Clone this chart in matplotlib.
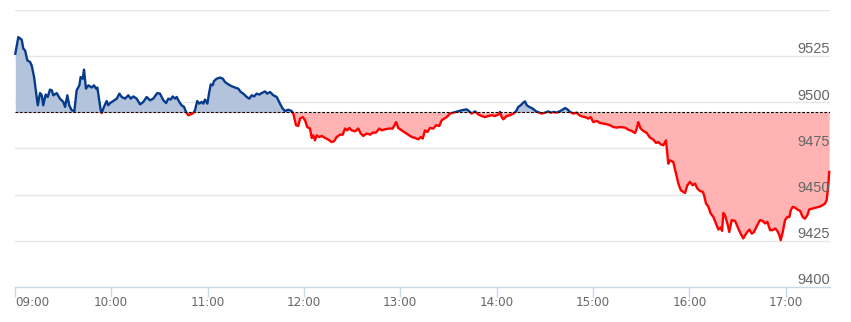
import matplotlib.pyplot as plt
from matplotlib.patches import Rectangle
import numpy as np

# minutes after 09:00 and index level
minutes = [
    0.3, 2.2, 4.3, 5.3, 6.4, 7.8, 9.5, 10.5, 12.0, 13.6, 14.3, 15.7, 16.8, 17.7,
    19.2, 20.5, 21.9, 23.0, 24.0, 26.1, 28.1, 30.2, 31.3, 32.7, 33.9, 35.4, 37.1,
    38.5, 40.2, 41.0, 42.3, 43.1, 44.3, 45.8, 47.9, 49.3, 50.6, 51.4, 52.6, 53.5,
    54.1, 55.5, 57.2, 58.2, 59.3, 61.3, 63.5, 65.1, 66.6, 68.6, 70.7, 72.2, 73.8,
    75.9, 78.0, 80.0, 82.1, 84.2, 86.2, 88.7, 90.4, 92.5, 94.2, 95.6, 97.1, 98.3,
    99.8, 100.8, 102.4, 103.9, 105.4, 106.6, 108.0, 109.5, 111.2, 112.2, 113.6,
    114.9, 116.4, 117.4, 118.4, 119.9, 121.1, 122.0, 123.2, 124.0, 125.7, 127.8,
    129.5, 130.9, 133.0, 135.1, 137.1, 139.2, 140.7, 142.3, 144.4, 146.0, 147.5,
    149.0, 150.6, 152.3, 153.7, 155.8, 157.2, 158.9, 161.0, 163.1, 165.1, 166.8,
    168.3, 170.3, 172.4, 173.4, 175.1, 176.5, 177.6, 179.3, 180.7, 182.1, 183.8,
    184.9, 185.9, 186.9, 188.0, 189.6, 191.1, 193.2, 195.2, 197.3, 198.8, 200.4,
    202.5, 204.2, 205.6, 207.0, 208.3, 209.8, 211.8, 213.9, 215.4, 217.0, 219.1,
    221.2, 222.9, 224.9, 227.0, 228.5, 230.5, 233.2, 235.3, 237.4, 238.8, 240.9,
    243.0, 245.0, 247.2, 249.2, 251.3, 252.7, 254.0, 255.4, 256.9, 258.5, 260.6,
    262.3, 264.3, 265.8, 268.9, 271.0, 273.1, 276.2, 278.3, 281.4, 283.0, 284.5,
    286.6, 288.6, 290.7, 292.8, 294.8, 297.0, 299.0, 301.1, 302.1, 303.2, 304.2,
    306.3, 308.4, 310.4, 312.1, 313.5, 315.0, 316.6, 317.7, 318.8, 320.4, 322.5,
    324.6, 326.6, 328.1, 330.2, 332.2, 333.7, 335.8, 337.4, 340.6, 342.6, 344.1,
    345.7, 347.8, 349.9, 351.5, 353.0, 355.1, 357.1, 358.6, 360.2, 362.4, 364.4,
    366.5, 368.6, 370.6, 372.7, 374.8, 376.9, 380.0, 382.0, 384.1, 386.2, 387.3,
    388.2, 389.7, 391.4, 393.5, 395.5, 397.6, 399.3, 400.7, 402.2, 403.8, 405.5,
    406.3, 406.9, 408.0, 410.0, 411.7, 413.2, 414.7, 416.3, 417.3, 418.8, 420.4,
    422.1, 423.6, 425.0, 426.7, 428.4, 429.2, 430.4, 431.9, 433.3, 435.0, 436.6,
    438.1, 439.6, 440.4, 441.2, 442.2, 443.7, 444.9, 446.4, 448.5, 450.5, 452.0,
    453.6, 454.7, 456.1, 457.4, 458.9, 460.3, 462.0, 464.0, 465.7, 467.2, 468.6,
    470.3, 472.0, 473.4, 474.8, 476.1, 476.9, 478.2, 479.6, 481.0, 482.3, 483.2,
    484.4, 485.8, 487.3, 489.0, 490.6, 492.0, 493.5, 494.7, 496.8, 498.9, 500.9,
    503.0, 504.5, 505.5, 506.5, 507.1,
]
price = [
    9526.3, 9535.3, 9533.9, 9529.1, 9528.1, 9522.7, 9521.8, 9520.0, 9513.7, 9502.9,
    9498.4, 9505.0, 9503.8, 9498.4, 9504.2, 9502.9, 9506.9, 9506.5, 9503.8, 9505.0,
    9502.0, 9500.2, 9497.5, 9503.8, 9498.4, 9495.7, 9495.3, 9506.5, 9509.2, 9513.7,
    9512.8, 9517.7, 9507.4, 9509.2, 9508.0, 9509.2, 9507.4, 9508.0, 9501.1, 9495.7,
    9494.2, 9497.5, 9500.7, 9498.4, 9499.6, 9500.7, 9502.0, 9504.7, 9502.9, 9502.0,
    9503.8, 9502.0, 9503.2, 9502.0, 9498.9, 9500.2, 9502.9, 9501.1, 9502.0, 9505.0,
    9504.7, 9501.1, 9499.6, 9502.0, 9501.5, 9503.2, 9502.0, 9502.9, 9500.2, 9498.4,
    9497.5, 9494.8, 9493.0, 9493.5, 9494.2, 9495.7, 9500.7, 9499.3, 9500.2, 9499.3,
    9501.5, 9499.3, 9505.6, 9509.7, 9509.2, 9511.5, 9512.8, 9513.4, 9512.8, 9511.0,
    9509.7, 9508.7, 9508.0, 9507.4, 9505.6, 9504.7, 9502.9, 9502.0, 9503.8, 9503.2,
    9504.7, 9504.2, 9505.0, 9505.9, 9504.7, 9505.6, 9503.8, 9502.9, 9499.3, 9496.6,
    9495.3, 9496.0, 9495.3, 9493.9, 9487.6, 9487.2, 9491.2, 9492.0, 9490.3, 9486.6,
    9485.8, 9480.7, 9482.1, 9479.4, 9482.1, 9481.2, 9481.8, 9480.7, 9479.8, 9478.5,
    9478.9, 9481.2, 9482.5, 9482.5, 9485.8, 9484.8, 9486.1, 9484.8, 9484.3, 9485.8,
    9483.1, 9481.8, 9483.1, 9482.5, 9483.6, 9483.6, 9485.8, 9484.8, 9485.4, 9485.8,
    9485.8, 9489.3, 9486.1, 9484.8, 9483.6, 9482.5, 9481.2, 9480.7, 9480.0, 9481.2,
    9480.4, 9484.8, 9483.9, 9486.1, 9485.8, 9487.6, 9487.2, 9490.3, 9492.0, 9493.9,
    9494.4, 9495.1, 9495.7, 9496.2, 9495.1, 9493.9, 9495.1, 9493.4, 9492.6, 9492.0,
    9492.6, 9493.0, 9492.6, 9493.4, 9494.8, 9492.0, 9490.8, 9492.6, 9493.0, 9493.9,
    9495.1, 9497.5, 9498.4, 9499.8, 9500.5, 9498.4, 9497.5, 9496.6, 9495.1, 9494.4,
    9493.9, 9494.4, 9495.1, 9494.4, 9494.8, 9494.4, 9495.7, 9496.9, 9496.2, 9494.8,
    9493.9, 9494.4, 9493.0, 9492.4, 9492.0, 9491.2, 9492.0, 9489.3, 9489.9, 9488.8,
    9488.5, 9488.1, 9487.6, 9486.6, 9486.3, 9486.6, 9486.3, 9485.2, 9484.5, 9483.4,
    9485.8, 9489.3, 9485.8, 9484.5, 9483.4, 9480.9, 9479.8, 9478.0, 9478.5, 9477.3,
    9476.7, 9479.4, 9472.2, 9466.8, 9468.6, 9467.7, 9461.4, 9456.0, 9452.4, 9451.5,
    9450.9, 9455.1, 9456.9, 9455.1, 9456.0, 9453.3, 9452.0, 9451.5, 9449.7, 9445.2,
    9443.4, 9439.8, 9437.9, 9434.4, 9431.1, 9432.2, 9430.4, 9440.1, 9438.9, 9434.4,
    9429.8, 9436.2, 9435.8, 9431.7, 9428.9, 9426.3, 9428.0, 9429.8, 9431.1, 9428.9,
    9429.8, 9432.9, 9436.2, 9435.8, 9434.4, 9435.3, 9430.8, 9430.8, 9431.7, 9430.4,
    9428.0, 9425.3, 9429.8, 9436.2, 9437.9, 9437.9, 9441.6, 9443.4, 9443.0, 9442.0,
    9441.2, 9437.9, 9437.0, 9438.9, 9442.0, 9442.5, 9443.0, 9443.4, 9444.3, 9445.2,
    9447.0, 9454.2, 9462.3,
]
prev_close = 9494.6
y_ticks = [9400, 9425, 9450, 9475, 9500, 9525, 9550]
x_hours = [9, 10, 11, 12, 13, 14, 15, 16, 17]
x_labels = ['09:00', '10:00', '11:00', '12:00', '13:00', '14:00', '15:00', '16:00', '17:00']

t = 9 + np.array(minutes) / 60.0
p = np.array(price)

fig = plt.figure(figsize=(8.51, 3.22), dpi=100)
ax = fig.add_axes([0.0174, 0.1087, 0.9579, 0.8603])
ax.set_xlim(9, 9 + 507.6 / 60)
ax.set_ylim(9400, 9550)

up_line = '#063b8c'
up_fill = '#b4c3dc'
dn_line = '#ff0000'
dn_fill = '#ffb3b3'

# grid lines
for v in y_ticks[1:]:
    ax.axhline(v, color='#e6e6e6', lw=1, zorder=0)

# clip rectangles above / below the previous close
above = Rectangle((0, prev_close), 100, 1000, transform=ax.transData)
below = Rectangle((0, prev_close - 1000), 100, 1000, transform=ax.transData)

f1 = ax.fill_between(t, p, prev_close, color=up_fill, lw=0, zorder=1)
f1.set_clip_path(above)
f2 = ax.fill_between(t, p, prev_close, color=dn_fill, lw=0, zorder=1)
f2.set_clip_path(below)

l1, = ax.plot(t, p, color=up_line, lw=1.7, zorder=3, solid_joinstyle='round')
l1.set_clip_path(above)
l2, = ax.plot(t, p, color=dn_line, lw=1.7, zorder=3, solid_joinstyle='round')
l2.set_clip_path(below)

ax.axhline(prev_close, color='#000000', lw=0.8, ls=(0, (2.5, 1.5)), zorder=4)

# y labels inside the plot, right aligned above the grid lines
for v in y_ticks[:-1]:
    ax.annotate(str(v), xy=(1, v), xycoords=('axes fraction', 'data'),
                xytext=(0, 2), textcoords='offset points',
                ha='right', va='baseline', fontsize=10.5, color='#666666',
                family=['Liberation Sans', 'DejaVu Sans'])

for s in ['left', 'right', 'top']:
    ax.spines[s].set_visible(False)
ax.spines['bottom'].set_color('#ccd6eb')
ax.spines['bottom'].set_linewidth(1)

ax.set_yticks([])
ax.set_xticks(x_hours)
ax.set_xticklabels(x_labels, family='DejaVu Sans', stretch='condensed',
                   fontsize=9.5, color='#666666')
ax.tick_params(axis='x', direction='out', length=7.2, width=1, color='#ccd6eb', pad=-1)
ax.get_xticklabels()[0].set_horizontalalignment('left')

fig.savefig('out.png', dpi=100)
